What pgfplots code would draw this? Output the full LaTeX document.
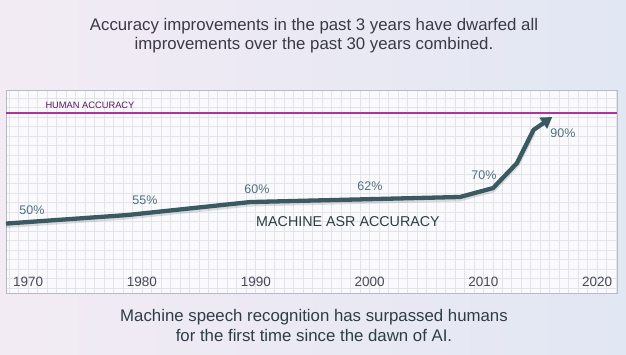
\documentclass[border=0pt]{standalone}
\usepackage{pgfplots}
\pgfplotsset{compat=1.18}
\usepackage{fontspec}
\setmainfont{Liberation Sans}
\usetikzlibrary{arrows.meta}
\definecolor{bgL}{HTML}{F3EBF4}
\definecolor{bgR}{HTML}{E1E7F3}
\definecolor{boxbg}{HTML}{FAFAFD}
\definecolor{gridc}{HTML}{E3E3EC}
\definecolor{boxedge}{HTML}{B9BAC8}
\definecolor{linec}{HTML}{3A5962}
\definecolor{pctc}{HTML}{4D7280}
\definecolor{humtxt}{HTML}{5A1A5A}
\definecolor{titlec}{HTML}{3A3A44}
\definecolor{tickc}{HTML}{4A4A55}
\definecolor{machc}{HTML}{2E3D45}
\begin{document}
\begin{tikzpicture}
\useasboundingbox (0pt,0pt) rectangle (626pt,354pt);
\shade[left color=bgL, right color=bgR] (0pt,0pt) rectangle (626pt,354pt);
\fill[boxbg] (6pt,61pt) rectangle (617pt,264pt);
\begin{axis}[
  at={(6pt,61pt)}, anchor=south west,
  width=611pt, height=203pt, scale only axis,
  xmin=1968.05, xmax=2021.74, ymin=0, ymax=100,
  xtick={1970,1980,1990,2000,2010,2020},
  xticklabels={1970,1980,1990,2000,2010,2020},
  minor xtick={1968.3333,1969.1667,...,2021.7},
  ytick={2.3,6.98,...,100}, yticklabels={},
  major tick length=0pt, minor tick length=0pt,
  grid=both,
  major grid style={gridc, line width=0.8pt},
  minor grid style={gridc, line width=0.8pt},
  axis line style={boxedge, line width=0.8pt},
  xticklabel style={anchor=base, yshift=6.5pt, font=\fontsize{13.5}{15}\selectfont, text=tickc},
  /pgf/number format/assume math mode=true,
  clip=false,
]
\addplot[draw={rgb,255:red,176;green,52;blue,160}, line width=1.7pt, mark=none] coordinates {(1968.05,88.5) (2021.74,88.5)};
\addplot[black, opacity=0.12, line width=5pt, line join=round, yshift=-2pt] coordinates {
 (1968.05,34.2) (1978.7,38.4) (1989.5,44.8) (2007.95,47.3) (2010.85,51.7) (2012.95,64.0) (2014.4,80.3)};
\addplot[linec, line width=4.3pt, line join=round, -{Triangle[length=11pt,width=13pt]}] coordinates {
 (1968.05,34.2) (1978.7,38.4) (1989.5,44.8) (2007.95,47.3) (2010.85,51.7) (2012.95,64.0) (2014.4,80.3) (2016.05,86.7)};
\end{axis}
\node[anchor=west, text=humtxt, font=\fontsize{9.3}{11}\selectfont] at (42pt,248.3pt) {HUMAN ACCURACY};
\node[text=machc, font=\fontsize{14.3}{16}\selectfont] at (348pt,132pt) {MACHINE ASR ACCURACY};
\begin{scope}[every node/.style={text=pctc, font=\fontsize{12.5}{14}\selectfont}]
\node at (32pt,144pt) {50\%};
\node at (145pt,153.3pt) {55\%};
\node at (257pt,165pt) {60\%};
\node at (370pt,168.3pt) {62\%};
\node at (484pt,179pt) {70\%};
\node at (563pt,221pt) {90\%};
\end{scope}
\node[text=titlec, align=center, font=\fontsize{16.8}{19.5}\selectfont] at (314pt,318.5pt) {Accuracy improvements in the past 3 years have dwarfed all\\improvements over the past 30 years combined.};
\node[text=machc, align=center, font=\fontsize{16.8}{19.5}\selectfont] at (314pt,28.5pt) {Machine speech recognition has surpassed humans\\for the first time since the dawn of AI.};
\end{tikzpicture}
\end{document}
